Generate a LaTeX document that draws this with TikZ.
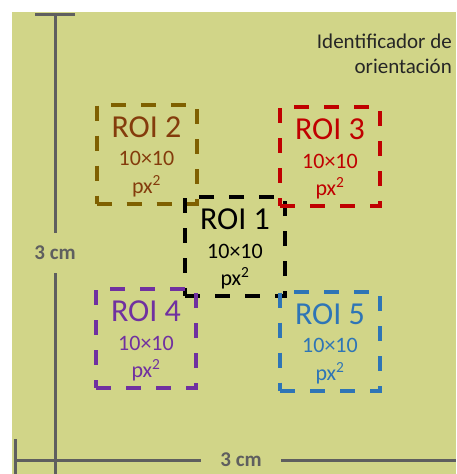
\documentclass[tikz,border=0pt]{standalone}
\usepackage{fontspec}
\setmainfont{Carlito}
\usetikzlibrary{positioning}
\definecolor{fondo}{RGB}{209,213,136}
\definecolor{gris}{RGB}{95,95,95}
\definecolor{marron}{RGB}{127,96,0}
\definecolor{marrontxt}{RGB}{132,60,12}
\definecolor{rojo}{RGB}{192,0,0}
\definecolor{morado}{RGB}{112,48,160}
\definecolor{azul}{RGB}{46,117,182}
\definecolor{texto}{RGB}{38,38,38}

\begin{document}
\begin{tikzpicture}[x=1pt,y=-1pt,
 roi/.style={draw=#1,line width=4pt,dash pattern=on 15pt off 15pt,minimum width=100pt,minimum height=99pt,inner sep=0pt},
 titulo/.style={font=\fontsize{32}{36}\selectfont,anchor=base,inner sep=0pt},
 medida/.style={font=\fontsize{22}{24}\selectfont,anchor=base,inner sep=0pt},
 cota/.style={font=\bfseries\fontsize{21}{24}\selectfont,text=gris,inner sep=0pt},
 linea/.style={draw=gris,line width=3pt}]
\useasboundingbox (0,0) rectangle (456,474);
\fill[white] (0,0) rectangle (456,474);
\fill[fondo] (12,12) rectangle (456,474);

% ejes de 3 cm
\coordinate (vtopa) at (35,14);
\coordinate (vtopb) at (75,14);
\coordinate (vtop) at (55,14);
\coordinate (vbot) at (55,474);
\node[cota,inner ysep=13pt] (vlab) at (55,253) {3 cm};
\draw[linea] (vtopa) -- (vtopb);
\draw[linea] (vtop) -- (vlab);
\draw[linea] (vlab) -- (vbot);

\coordinate (htica) at (15,439);
\coordinate (hticb) at (15,474);
\coordinate (hizq) at (15,460);
\coordinate (hder) at (456,460);
\node[cota,inner xsep=19pt] (hlab) at (241,460) {3 cm};
\draw[linea] (htica) -- (hticb);
\draw[linea] (hizq) -- (hlab);
\draw[linea] (hlab) -- (hder);

% texto
\node[font=\fontsize{21}{25}\selectfont,text=texto,align=right,anchor=north east,inner sep=0pt] (ident) at (452,34) {Identificador de\\orientación};

% ROIs
\node[roi=black] (r1) at (235,246.5) {};
\node[roi=marron] (r2) at (146.5,154) {};
\node[roi=rojo] (r3) at (330,156.5) {};
\node[roi=morado] (r4) at (146,338.5) {};
\node[roi=azul] (r5) at (330,341) {};

\node[titulo,text=black] (t1) at ([yshift=-34.5pt]r1.north) {ROI 1};
\node[medida,text=black] (m1) at ([yshift=-63pt]r1.north) {10×10};
\node[medida,text=black] (p1) at ([yshift=-90.5pt]r1.north) {px\textsuperscript{2}};

\node[titulo,text=marrontxt] (t2) at ([yshift=-34.5pt]r2.north) {ROI 2};
\node[medida,text=marrontxt] (m2) at ([yshift=-63pt]r2.north) {10×10};
\node[medida,text=marrontxt] (p2) at ([yshift=-90.5pt]r2.north) {px\textsuperscript{2}};

\node[titulo,text=rojo] (t3) at ([yshift=-34.5pt]r3.north) {ROI 3};
\node[medida,text=rojo] (m3) at ([yshift=-63pt]r3.north) {10×10};
\node[medida,text=rojo] (p3) at ([yshift=-90.5pt]r3.north) {px\textsuperscript{2}};

\node[titulo,text=morado] (t4) at ([yshift=-34.5pt]r4.north) {ROI 4};
\node[medida,text=morado] (m4) at ([yshift=-63pt]r4.north) {10×10};
\node[medida,text=morado] (p4) at ([yshift=-90.5pt]r4.north) {px\textsuperscript{2}};

\node[titulo,text=azul] (t5) at ([yshift=-34.5pt]r5.north) {ROI 5};
\node[medida,text=azul] (m5) at ([yshift=-63pt]r5.north) {10×10};
\node[medida,text=azul] (p5) at ([yshift=-90.5pt]r5.north) {px\textsuperscript{2}};
\end{tikzpicture}
\end{document}
